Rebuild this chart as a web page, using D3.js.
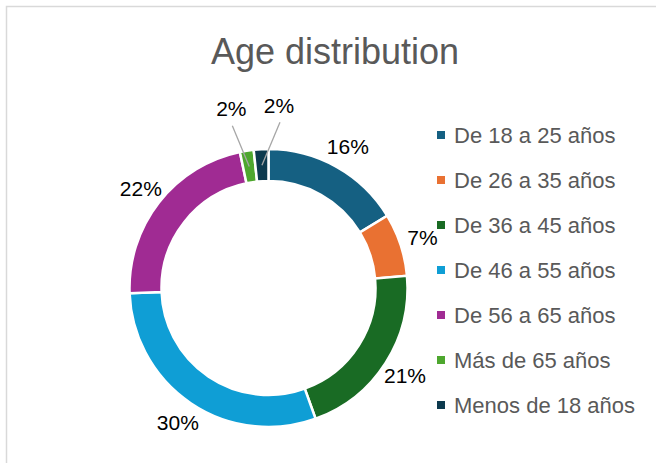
<!DOCTYPE html>
<html>
<head>
<meta charset="utf-8">
<script src="https://cdn.jsdelivr.net/npm/d3@7"></script>
<style>
  html, body { margin: 0; padding: 0; background: #fff; }
  text { font-family: "Liberation Sans", Arial, sans-serif; }
</style>
</head>
<body>
<div id="chart-area"></div>
<script>
// data
var categories = ["De 18 a 25 años", "De 26 a 35 años", "De 36 a 45 años", "De 46 a 55 años",
                  "De 56 a 65 años", "Más de 65 años", "Menos de 18 años"];
var values = [16.3, 7.3, 20.9, 29.9, 22.3, 1.6, 1.7];
var colors = ["#156082", "#E97132", "#196B24", "#0F9ED5", "#A02B93", "#4EA72E", "#0D3A4E"];
var title = "Age distribution";

var width = 656, height = 463;
var cx = 268.5, cy = 288,
    outerR = 139, innerR = 107,
    labelR = 162, smallLabelR = 183;

var svg = d3.select('#chart-area').append('svg')
    .attr('width', width)
    .attr('height', height);

// chart area border
svg.append('rect')
    .attr('x', 6.5).attr('y', 6.5)
    .attr('width', 700).attr('height', 500)
    .attr('fill', 'none')
    .attr('stroke', '#d9d9d9')
    .attr('stroke-width', 1.5);

//title
svg.append('text')
    .attr('x', 335)
    .attr('y', 64)
    .attr('font-size', '36px')
    .attr('fill', '#595959')
    .attr('text-anchor', 'middle')
    .text(title);

var total = d3.sum(values);
var data = categories.map(function(c, i){ return { cat: c, value: values[i], color: colors[i] }; });

var pie = d3.pie()
    .sort(null)
    .value(function(d){ return d.value; });

var arc = d3.arc()
    .innerRadius(innerR)
    .outerRadius(outerR);

var arcs = pie(data);

var g = svg.append('g')
    .attr('transform', 'translate(' + cx + ',' + cy + ')');

g.selectAll('path.slice')
    .data(arcs)
    .enter().append('path')
    .attr('class', 'slice')
    .attr('d', arc)
    .attr('fill', function(d){ return d.data.color; })
    .attr('stroke', '#fff')
    .attr('stroke-width', 2.5);

// label angles; small slices get pulled out and spread apart
arcs.forEach(function(d){
    d.mid = (d.startAngle + d.endAngle) / 2;
    d.small = d.value / total < 0.03;
    d.la = d.mid;
    d.lr = d.small ? smallLabelR : labelR;
});
var small = arcs.filter(function(d){ return d.small; });
var minSep = 15 * Math.PI / 180;
for (var k = 1; k < small.length; k++) {
    var gap = small[k].la - small[k-1].la;
    if (gap < minSep) {
        var need = minSep - gap;
        small[k-1].la -= need * 0.3;
        small[k].la += need * 0.7;
    }
}
arcs.forEach(function(d){
    d.lx = Math.sin(d.la) * d.lr;
    d.ly = -Math.cos(d.la) * d.lr;
});

// leader lines for pulled-out labels
g.selectAll('line.leader')
    .data(small)
    .enter().append('line')
    .attr('class', 'leader')
    .attr('x1', function(d){ return arc.centroid(d)[0]; })
    .attr('y1', function(d){ return arc.centroid(d)[1]; })
    .attr('x2', function(d){ return d.lx + 1; })
    .attr('y2', function(d){ return d.ly + 17; })
    .attr('stroke', '#a6a6a6')
    .attr('stroke-width', 1.3);

g.selectAll('text.lbl')
    .data(arcs)
    .enter().append('text')
    .attr('class', 'lbl')
    .attr('x', function(d){ return d.lx; })
    .attr('y', function(d){ return d.ly; })
    .attr('dy', '0.35em')
    .attr('text-anchor', 'middle')
    .attr('font-size', '21px')
    .attr('fill', '#000')
    .text(function(d){ return Math.round(d.value / total * 100) + '%'; });

// legend
var legendY = d3.scalePoint()
    .domain(categories)
    .range([135, 405]);

var legend = svg.append('g').attr('class', 'legend');
var items = legend.selectAll('g')
    .data(data)
    .enter().append('g')
    .attr('transform', function(d){ return 'translate(437,' + legendY(d.cat) + ')'; });

items.append('rect')
    .attr('x', 0).attr('y', -4)
    .attr('width', 8).attr('height', 8)
    .attr('fill', function(d){ return d.color; });

items.append('text')
    .attr('x', 17)
    .attr('y', 0)
    .attr('dy', '0.35em')
    .attr('font-size', '22px')
    .attr('fill', '#595959')
    .text(function(d){ return d.cat; });
</script>
</body>
</html>
